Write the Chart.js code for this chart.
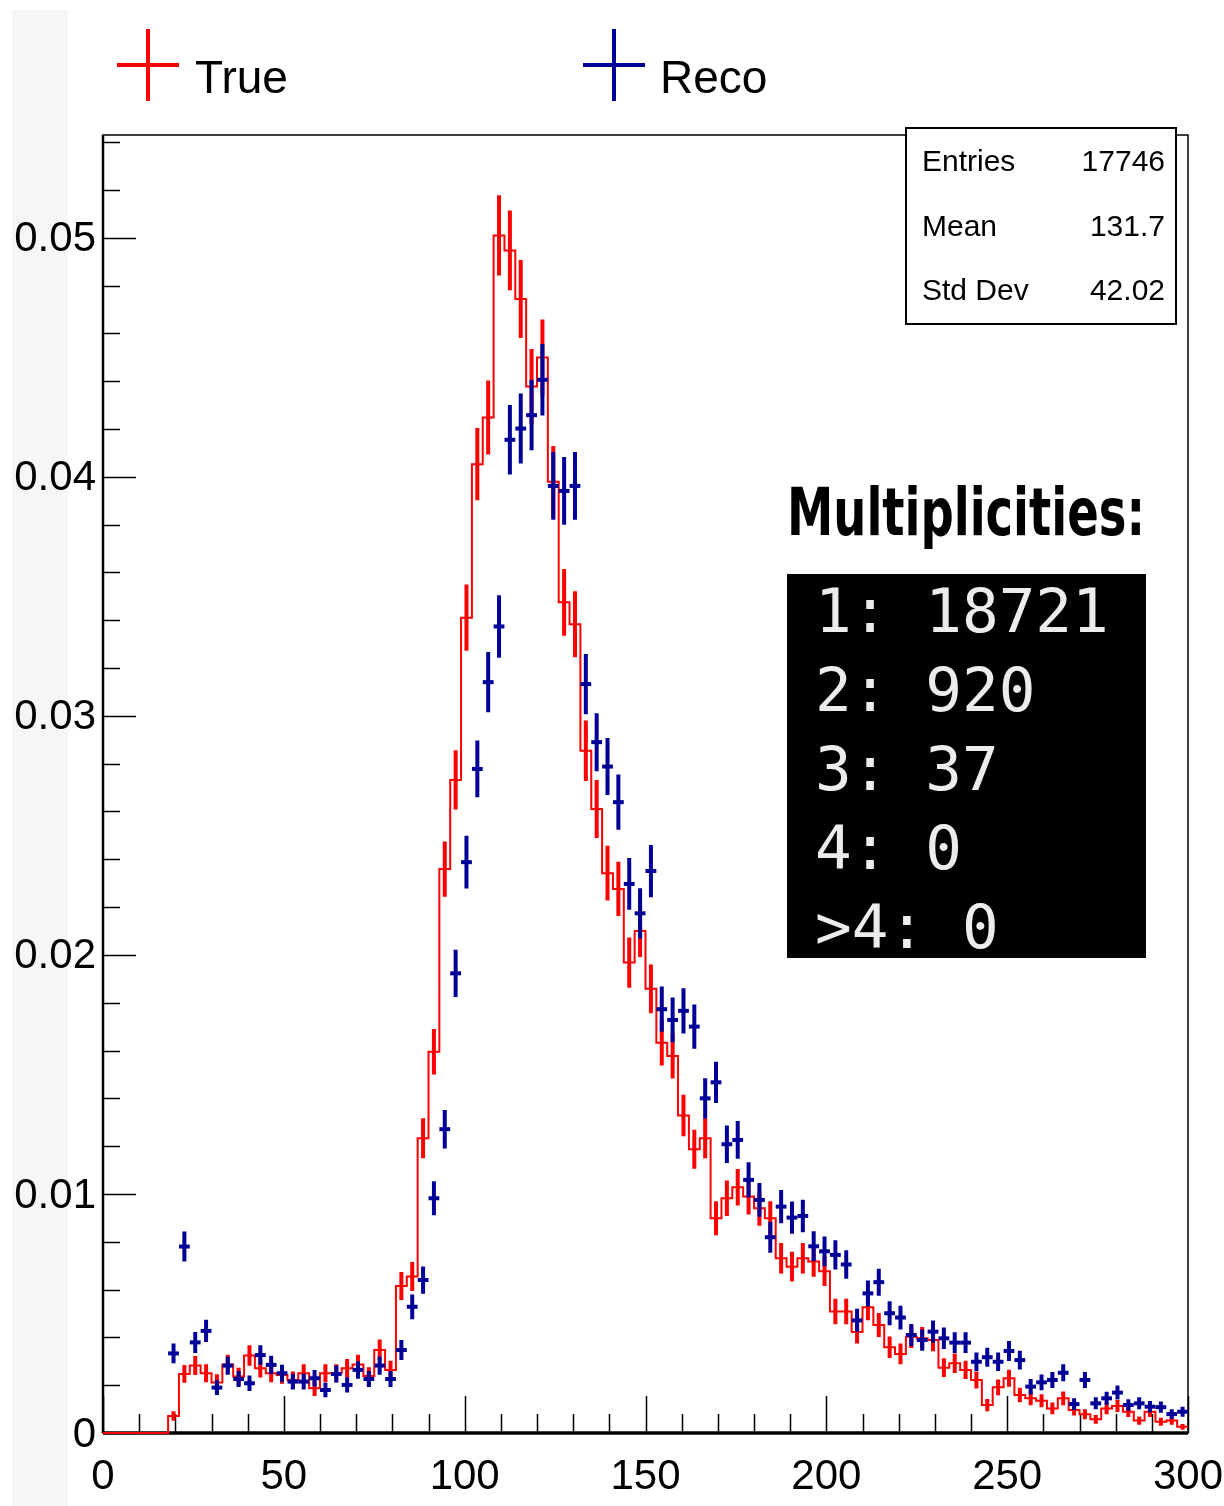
<!DOCTYPE html>
<html>
<head>
<meta charset="utf-8">
<title>True vs Reco</title>
<script src="https://cdn.jsdelivr.net/npm/chart.js@4.4.1/dist/chart.umd.min.js"></script>
<style>
    html, body { margin: 0; padding: 0; background: #fff; }
    #wrap { width: 1224px; height: 1506px; }
</style>
</head>
<body>
<div id="wrap"><canvas id="histo" width="1224" height="1506"></canvas></div>
<script>
/* ============================================= */
/*                    Data                       */
/* ============================================= */

// 100 bins of width 3 between 0 and 300
const xMin = 0;
const xMax = 300;
const nBins = 100;
const yMax = 0.0543;

const trueValues = [
    0, 0, 0, 0, 0, 0,
    0.00071, 0.00247, 0.00282, 0.00250, 0.00211, 0.00287, 0.00236, 0.00324, 0.00271, 0.00250,
    0.00243, 0.00222, 0.00250, 0.00187, 0.00250, 0.00250, 0.00271, 0.00287, 0.00238, 0.00347,
    0.00264, 0.00615, 0.00655, 0.01233, 0.01595, 0.02359, 0.02732, 0.03411, 0.04053, 0.04248,
    0.05010, 0.04947, 0.04744, 0.04378, 0.04499, 0.03979, 0.03475, 0.03383, 0.02854, 0.02610,
    0.02342, 0.02276, 0.01968, 0.02100, 0.01858, 0.01633, 0.01577, 0.01328, 0.01187, 0.01233,
    0.00898, 0.00982, 0.01028, 0.00989, 0.00940, 0.00898, 0.00731, 0.00696, 0.00731, 0.00717,
    0.00677, 0.00508, 0.00508, 0.00423, 0.00526, 0.00452, 0.00359, 0.00331, 0.00403, 0.00396,
    0.00389, 0.00273, 0.00292, 0.00264, 0.00222, 0.00117, 0.00191, 0.00229, 0.00159, 0.00145,
    0.00135, 0.00103, 0.00145, 0.00096, 0.00078, 0.00057, 0.00103, 0.00113, 0.00089, 0.00052,
    0.00089, 0.00047, 0.00052, 0.00026
];

const recoValues = [
    null, null, null, null, null, null,
    0.00333, 0.00780, 0.00379, 0.00427, 0.00190, 0.00282, 0.00226, 0.00208, 0.00326, 0.00285,
    0.00250, 0.00215, 0.00215, 0.00229, 0.00180, 0.00247, 0.00201, 0.00264, 0.00226, 0.00282,
    0.00226, 0.00347, 0.00528, 0.00640, 0.00982, 0.01271, 0.01923, 0.02388, 0.02778, 0.03141,
    0.03374, 0.04155, 0.04202, 0.04258, 0.04406, 0.03962, 0.03941, 0.03962, 0.03133, 0.02890,
    0.02788, 0.02639, 0.02297, 0.02174, 0.02351, 0.01773, 0.01728, 0.01766, 0.01700, 0.01400,
    0.01467, 0.01208, 0.01226, 0.01059, 0.00975, 0.00819, 0.00947, 0.00901, 0.00908, 0.00781,
    0.00760, 0.00745, 0.00705, 0.00471, 0.00584, 0.00631, 0.00501, 0.00483, 0.00410, 0.00389,
    0.00424, 0.00396, 0.00378, 0.00378, 0.00298, 0.00317, 0.00298, 0.00343, 0.00305, 0.00194,
    0.00212, 0.00222, 0.00252, 0.00121, 0.00222, 0.00124, 0.00145, 0.00169, 0.00117, 0.00124,
    0.00110, 0.00108, 0.00079, 0.00089
];

// counts used for the normalised poisson errors
const trueEntries = 17746;
const recoEntries = 19678;

const xTickValues = [0, 50, 100, 150, 200, 250, 300];
const xTickLabels = ["0", "50", "100", "150", "200", "250", "300"];
const yTickValues = [0, 0.01, 0.02, 0.03, 0.04, 0.05];
const yTickLabels = ["0", "0.01", "0.02", "0.03", "0.04", "0.05"];

const legendLabels = ["True", "Reco"];
const statNames = ["Entries", "Mean", "Std Dev"];
const statValues = ["17746", "131.7", "42.02"];
const multLabels = ["1:", "2:", "3:", "4:", ">4:"];
const multCounts = [18721, 920, 37, 0, 0];

const trueColor = '#ff0000';
const recoColor = '#000099';

/* ============================================= */
/*                 Build points                  */
/* ============================================= */

const binWidth = (xMax - xMin) / nBins;
const binEdges = [];
const binCenters = [];
for (let i = 0; i < nBins; i++) {
    binEdges.push(xMin + i * binWidth);
    binCenters.push(xMin + (i + 0.5) * binWidth);
}

// step line: one point per lower edge, plus the closing upper edge
const truePoints = binEdges.map((x, i) => ({ x: x, y: trueValues[i] }));
truePoints.push({ x: xMax, y: trueValues[nBins - 1] });
const trueErrors = trueValues.map(v => Math.sqrt(v / trueEntries));

const recoPoints = [];
recoValues.forEach((v, i) => {
    if (v !== null) recoPoints.push({ x: binCenters[i], y: v });
});
const recoErrors = recoValues.map(v => v === null ? null : Math.sqrt(v / recoEntries));

/* ============================================= */
/*                   Plugins                     */
/* ============================================= */

const background = {
    id: 'background',
    beforeDraw(chart) {
        const ctx = chart.ctx;
        ctx.save();
        ctx.fillStyle = '#ffffff';
        ctx.fillRect(0, 0, chart.width, chart.height);
        ctx.fillStyle = '#f6f6f6';
        ctx.fillRect(12, 10, 56, chart.height - 10);
        ctx.restore();
    }
};

// ROOT style frame with ticks inside the pad
const frame = {
    id: 'frame',
    beforeDatasetsDraw(chart) {
        const ctx = chart.ctx;
        const a = chart.chartArea;
        const xs = chart.scales.x;
        const ys = chart.scales.y;
        ctx.save();
        ctx.strokeStyle = '#000';

        ctx.lineWidth = 1.5;
        ctx.strokeRect(a.left, a.top, a.right - a.left, a.bottom - a.top);
        ctx.lineWidth = 2.5;
        ctx.beginPath();
        ctx.moveTo(a.left, a.top);
        ctx.lineTo(a.left, a.bottom);
        ctx.stroke();
        ctx.lineWidth = 3.5;
        ctx.beginPath();
        ctx.moveTo(a.left, a.bottom);
        ctx.lineTo(a.right, a.bottom);
        ctx.stroke();

        ctx.lineWidth = 1.5;
        ctx.beginPath();
        for (let v = 0; v <= yMax + 1e-9; v += 0.002) {
            const y = Math.round(ys.getPixelForValue(v)) + 0.5;
            const major = Math.abs(v / 0.01 - Math.round(v / 0.01)) < 1e-6;
            ctx.moveTo(a.left, y);
            ctx.lineTo(a.left + (major ? 33 : 17), y);
        }
        for (let v = xMin; v <= xMax; v += 10) {
            const x = Math.round(xs.getPixelForValue(v)) + 0.5;
            const major = v % 50 === 0;
            ctx.moveTo(x, a.bottom);
            ctx.lineTo(x, a.bottom - (major ? 37 : 19));
        }
        ctx.stroke();

        ctx.fillStyle = '#000';
        ctx.font = '42px "Liberation Sans", Arial, sans-serif';
        ctx.textAlign = 'right';
        ctx.textBaseline = 'middle';
        yTickValues.forEach((v, i) => {
            ctx.fillText(yTickLabels[i], 96, ys.getPixelForValue(v) + 2);
        });
        ctx.textAlign = 'center';
        ctx.textBaseline = 'alphabetic';
        xTickValues.forEach((v, i) => {
            ctx.fillText(xTickLabels[i], xs.getPixelForValue(v), 1489);
        });
        ctx.restore();
    }
};

// vertical error bars, drawn right after their own dataset
const errorBars = {
    id: 'errorBars',
    afterDatasetDraw(chart, args) {
        const ds = chart.data.datasets[args.index];
        if (!ds.errValues) return;
        const ctx = chart.ctx;
        const xs = chart.scales.x;
        const ys = chart.scales.y;
        ctx.save();
        ctx.strokeStyle = ds.borderColor;
        ctx.lineWidth = 4;
        ctx.lineCap = 'butt';
        ctx.beginPath();
        ds.errValues.forEach((v, i) => {
            if (v === null || !ds.errSizes[i]) return;
            const x = xs.getPixelForValue(binCenters[i]);
            ctx.moveTo(x, ys.getPixelForValue(v - ds.errSizes[i]));
            ctx.lineTo(x, ys.getPixelForValue(v + ds.errSizes[i]));
        });
        ctx.stroke();
        ctx.restore();
    }
};

const annotations = {
    id: 'annotations',
    afterDraw(chart) {
        const ctx = chart.ctx;
        ctx.save();

        // legend
        const legendItems = [
            { color: trueColor, cx: 148, text: legendLabels[0], tx: 195 },
            { color: recoColor, cx: 614, text: legendLabels[1], tx: 660 }
        ];
        legendItems.forEach(item => {
            ctx.strokeStyle = item.color;
            ctx.lineWidth = 4;
            ctx.beginPath();
            ctx.moveTo(item.cx, 29);
            ctx.lineTo(item.cx, 101);
            ctx.moveTo(item.cx - 31, 65);
            ctx.lineTo(item.cx + 31, 65);
            ctx.stroke();
            ctx.fillStyle = '#000';
            ctx.font = '46px "Liberation Sans", Arial, sans-serif';
            ctx.textAlign = 'left';
            ctx.textBaseline = 'alphabetic';
            ctx.fillText(item.text, item.tx, 93);
        });

        // stats box
        ctx.fillStyle = '#fff';
        ctx.fillRect(906, 128, 270, 196);
        ctx.strokeStyle = '#000';
        ctx.lineWidth = 2;
        ctx.strokeRect(906, 128, 270, 196);
        ctx.fillStyle = '#000';
        ctx.font = '30px "Liberation Sans", Arial, sans-serif';
        ctx.textBaseline = 'middle';
        statNames.forEach((name, i) => {
            const y = 163 + i * 64.5;
            ctx.textAlign = 'left';
            ctx.fillText(name, 922, y);
            ctx.textAlign = 'right';
            ctx.fillText(statValues[i], 1165, y);
        });

        // title of the multiplicity table, squeezed to the condensed width
        ctx.textAlign = 'left';
        ctx.textBaseline = 'alphabetic';
        ctx.font = 'bold 66px "Liberation Sans Narrow", "DejaVu Sans Condensed", "Liberation Sans", sans-serif';
        const title = 'Multiplicities:';
        const w = ctx.measureText(title).width;
        ctx.save();
        ctx.translate(787, 535);
        ctx.scale(358 / w, 1);
        ctx.fillText(title, 0, 0);
        ctx.restore();

        // terminal-looking table
        ctx.fillStyle = '#000';
        ctx.fillRect(787, 574, 359, 384);
        ctx.fillStyle = '#ececec';
        ctx.font = '61px "DejaVu Sans Mono", monospace';
        multLabels.forEach((lab, i) => {
            ctx.fillText(lab + ' ' + multCounts[i], 815, 632 + i * 79);
        });

        ctx.restore();
    }
};

/* ============================================= */
/*                    Chart                      */
/* ============================================= */

const histoCanvas = document.getElementById('histo');

let histoChart = new Chart(histoCanvas, {
    type: 'scatter',
    data: {
        datasets: [{
            type: 'line',
            label: legendLabels[0],
            data: truePoints,
            borderColor: trueColor,
            borderWidth: 2,
            pointRadius: 0,
            stepped: 'before',
            fill: false,
            clip: 6,
            order: 2,
            errValues: trueValues,
            errSizes: trueErrors
        }, {
            type: 'scatter',
            label: legendLabels[1],
            data: recoPoints,
            borderColor: recoColor,
            backgroundColor: recoColor,
            pointStyle: 'line',
            pointRadius: binWidth * 1.8,
            pointBorderWidth: 4,
            pointBorderColor: recoColor,
            showLine: false,
            clip: 8,
            order: 1,
            errValues: recoValues,
            errSizes: recoErrors
        }]
    },
    options: {
        responsive: false,
        devicePixelRatio: 1,
        animation: false,
        layout: {
            padding: { left: 103, right: 36, top: 135, bottom: 73 }
        },
        scales: {
            x: { type: 'linear', min: xMin, max: xMax, display: false },
            y: { type: 'linear', min: 0, max: yMax, display: false }
        },
        plugins: {
            legend: { display: false },
            tooltip: { enabled: false }
        }
    },
    plugins: [background, frame, errorBars, annotations]
});
</script>
</body>
</html>
